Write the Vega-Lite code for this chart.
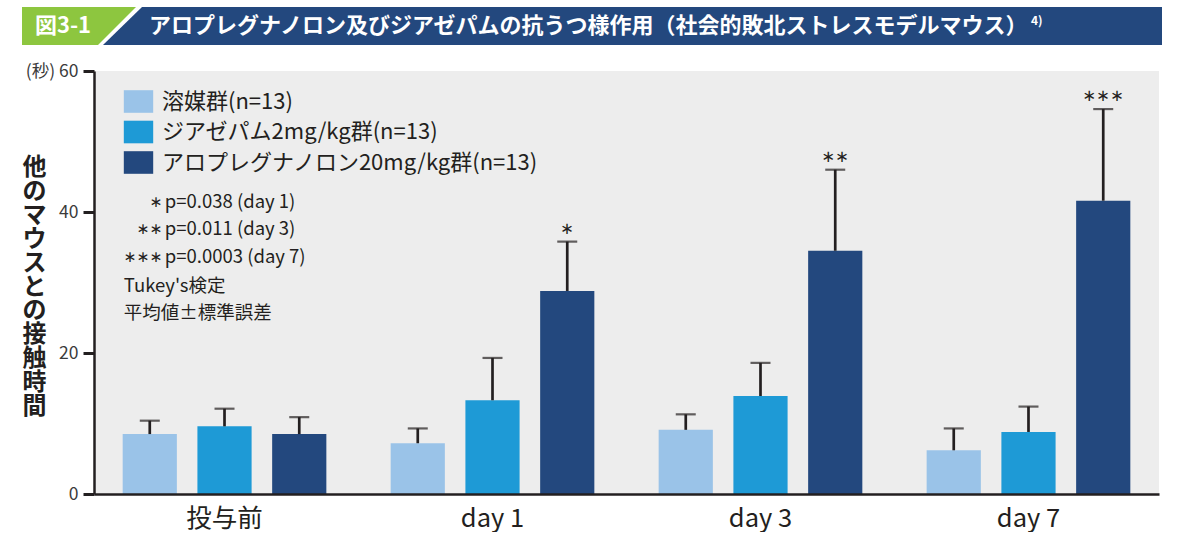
{
  "$schema": "https://vega.github.io/schema/vega-lite/v6.json",
  "padding": {"left": 22, "top": 7, "right": 0, "bottom": 0},
  "background": "white",
  "spacing": 17,
  "resolve": {"scale": {"color": "independent"}, "legend": {"color": "independent"}},
  "config": {
    "font": "Noto Sans CJK JP",
    "view": {"stroke": null},
    "axis": {"labelFont": "Noto Sans CJK JP", "titleFont": "Noto Sans CJK JP"},
    "legend": {"labelFont": "Noto Sans CJK JP"}
  },
  "vconcat": [
    {
      "width": 1065,
      "height": 38,
      "layer": [
        {
          "data": {"values": [
            {"yv": 0, "x0": -72, "x1": 4},
            {"yv": 1, "x0": -72, "x1": 42}
          ]},
          "mark": {"type": "area", "orient": "horizontal", "color": "#8dc63f", "clip": false},
          "encoding": {
            "y": {"field": "yv", "type": "quantitative", "scale": {"domain": [0, 1], "nice": false}, "axis": null},
            "x": {"field": "x0", "type": "quantitative", "scale": {"domain": [0, 1065], "nice": false}, "axis": null, "stack": null},
            "x2": {"field": "x1"}
          }
        },
        {
          "data": {"values": [
            {"yv": 0, "x0": 9, "x1": 1068},
            {"yv": 1, "x0": 48, "x1": 1068}
          ]},
          "mark": {"type": "area", "orient": "horizontal", "color": "#23487e", "clip": false},
          "encoding": {
            "y": {"field": "yv", "type": "quantitative", "axis": null},
            "x": {"field": "x0", "type": "quantitative", "axis": null, "stack": null},
            "x2": {"field": "x1"}
          }
        },
        {
          "data": {"values": [{"t": "図3-1"}]},
          "mark": {"type": "text", "font": "Noto Sans CJK JP", "fontSize": 22, "fontWeight": "bold", "color": "white", "align": "center", "baseline": "middle"},
          "encoding": {"x": {"datum": -31, "type": "quantitative"}, "y": {"datum": 0.5, "type": "quantitative"}, "text": {"field": "t"}}
        },
        {
          "data": {"values": [{"t": "アロプレグナノロン及びジアゼパムの抗うつ様作用（社会的敗北ストレスモデルマウス）"}]},
          "mark": {"type": "text", "font": "Noto Sans CJK JP", "fontSize": 22, "fontWeight": "bold", "color": "white", "align": "left", "baseline": "middle"},
          "encoding": {"x": {"datum": 55, "type": "quantitative"}, "y": {"datum": 0.5, "type": "quantitative"}, "text": {"field": "t"}}
        },
        {
          "data": {"values": [{"t": "4)"}]},
          "mark": {"type": "text", "font": "Noto Sans CJK JP", "fontSize": 12, "fontWeight": "bold", "color": "white", "align": "left", "baseline": "middle"},
          "encoding": {"x": {"datum": 937, "type": "quantitative"}, "y": {"datum": 0.62, "type": "quantitative"}, "text": {"field": "t"}}
        }
      ]
    },
    {
      "width": 1065,
      "height": 423,
      "view": {"fill": "#ededed", "stroke": null},
      "data": {"values": [
        {"group": "投与前", "treatment": "溶媒群(n=13)", "mean": 8.5, "upper": 10.4, "sig": ""},
        {"group": "投与前", "treatment": "ジアゼパム2mg/kg群(n=13)", "mean": 9.6, "upper": 12.1, "sig": ""},
        {"group": "投与前", "treatment": "アロプレグナノロン20mg/kg群(n=13)", "mean": 8.5, "upper": 10.9, "sig": ""},
        {"group": "day 1", "treatment": "溶媒群(n=13)", "mean": 7.2, "upper": 9.3, "sig": ""},
        {"group": "day 1", "treatment": "ジアゼパム2mg/kg群(n=13)", "mean": 13.3, "upper": 19.3, "sig": ""},
        {"group": "day 1", "treatment": "アロプレグナノロン20mg/kg群(n=13)", "mean": 28.8, "upper": 35.8, "sig": "∗"},
        {"group": "day 3", "treatment": "溶媒群(n=13)", "mean": 9.1, "upper": 11.3, "sig": ""},
        {"group": "day 3", "treatment": "ジアゼパム2mg/kg群(n=13)", "mean": 13.9, "upper": 18.6, "sig": ""},
        {"group": "day 3", "treatment": "アロプレグナノロン20mg/kg群(n=13)", "mean": 34.5, "upper": 46.0, "sig": "∗∗"},
        {"group": "day 7", "treatment": "溶媒群(n=13)", "mean": 6.2, "upper": 9.3, "sig": ""},
        {"group": "day 7", "treatment": "ジアゼパム2mg/kg群(n=13)", "mean": 8.8, "upper": 12.4, "sig": ""},
        {"group": "day 7", "treatment": "アロプレグナノロン20mg/kg群(n=13)", "mean": 41.6, "upper": 54.6, "sig": "∗∗∗"}
      ]},
      "encoding": {
        "x": {
          "field": "group", "type": "nominal",
          "scale": {"domain": ["投与前", "day 1", "day 3", "day 7"], "paddingInner": 0.24, "paddingOuter": 0.107},
          "axis": {"title": null, "labelAngle": 0, "labelFontSize": 25.5, "labelColor": "#231f20", "ticks": false, "labelPadding": 12, "domainWidth": 2.5, "domainColor": "#231f20", "zindex": 1}
        }
      },
      "layer": [
        {
          "mark": {"type": "bar"},
          "encoding": {
            "xOffset": {"field": "treatment", "type": "nominal", "scale": {"domain": ["溶媒群(n=13)", "ジアゼパム2mg/kg群(n=13)", "アロプレグナノロン20mg/kg群(n=13)"], "paddingInner": 0.275, "paddingOuter": 0}},
            "y": {
              "field": "mean", "type": "quantitative",
              "scale": {"domain": [0, 60], "nice": false},
              "axis": {
                "title": ["他", "の", "マ", "ウ", "ス", "と", "の", "接", "触", "時", "間"],
                "titleAngle": 0, "titleX": -60, "titleY": 96.5, "titleAlign": "center", "titleBaseline": "middle",
                "titleFontSize": 24, "titleLineHeight": 23.9, "titleFontWeight": "bold", "titleColor": "#231f20",
                "values": [0, 20, 40, 60], "grid": false,
                "labelExpr": "datum.value === 60 ? '(秒) 60' : datum.label",
                "labelFontSize": 17.5, "labelColor": "#3b3b3b", "labelPadding": 5,
                "tickSize": 11, "tickWidth": 3, "tickColor": "#231f20",
                "domainWidth": 2.5, "domainColor": "#231f20", "zindex": 1
              }
            },
            "color": {
              "field": "treatment", "type": "nominal",
              "scale": {"domain": ["溶媒群(n=13)", "ジアゼパム2mg/kg群(n=13)", "アロプレグナノロン20mg/kg群(n=13)"], "range": ["#9ac3e8", "#1e9ad6", "#23487e"]},
              "legend": {
                "title": null, "orient": "none", "legendX": 33, "legendY": 19,
                "symbolType": "M-1.3,-1H1.3V1H-1.3Z", "symbolSize": 511, "symbolStrokeWidth": 0, "symbolOpacity": 1,
                "labelFontSize": 22, "labelColor": "#231f20", "labelOffset": 12, "rowPadding": 7.5, "labelLimit": 600
              }
            }
          }
        },
        {
          "mark": {"type": "rule", "color": "#231f20", "strokeWidth": 2.7},
          "encoding": {
            "xOffset": {"field": "treatment", "type": "nominal"},
            "y": {"field": "mean", "type": "quantitative"},
            "y2": {"field": "upper"}
          }
        },
        {
          "mark": {"type": "tick", "color": "#231f20", "thickness": 2.2, "size": 20},
          "encoding": {
            "xOffset": {"field": "treatment", "type": "nominal"},
            "y": {"field": "upper", "type": "quantitative"}
          }
        },
        {
          "mark": {"type": "text", "font": "DejaVu Sans", "fontSize": 16.5, "baseline": "middle", "dy": -13, "color": "#231f20"},
          "encoding": {
            "xOffset": {"field": "treatment", "type": "nominal"},
            "y": {"field": "upper", "type": "quantitative"},
            "text": {"field": "sig"}
          }
        },
        {
          "data": {"values": [{}]},
          "mark": {"type": "text", "text": ["∗", "∗∗", "∗∗∗"], "font": "DejaVu Sans", "fontSize": 15.5, "align": "right", "baseline": "middle", "lineHeight": 27.2, "dx": -62, "color": "#231f20"},
          "encoding": {"x": {"datum": "投与前"}, "y": {"datum": 41.38}}
        },
        {
          "data": {"values": [{}]},
          "mark": {"type": "text", "text": ["p=0.038 (day 1)", "p=0.011 (day 3)", "p=0.0003 (day 7)"], "fontSize": 18.5, "align": "left", "baseline": "middle", "lineHeight": 27.2, "dx": -59.7, "color": "#231f20"},
          "encoding": {"x": {"datum": "投与前"}, "y": {"datum": 41.38}}
        },
        {
          "data": {"values": [{}]},
          "mark": {"type": "text", "text": ["Tukey's検定", "平均値±標準誤差"], "fontSize": 18.5, "align": "left", "baseline": "middle", "lineHeight": 27.2, "dx": -100.7, "color": "#231f20"},
          "encoding": {"x": {"datum": "投与前"}, "y": {"datum": 29.55}}
        }
      ]
    }
  ]
}
